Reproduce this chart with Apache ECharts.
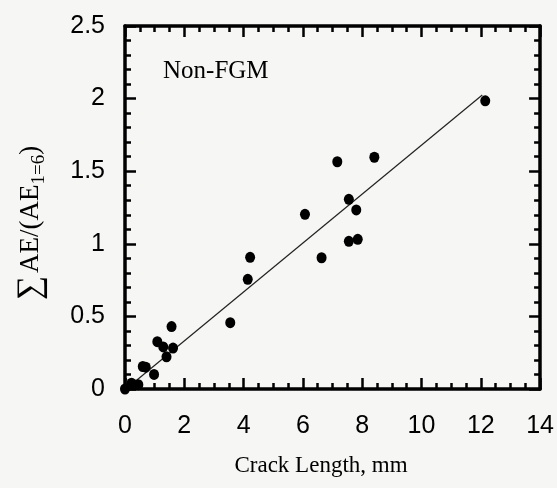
<!DOCTYPE html>
<html><head><meta charset="utf-8">
<script src="https://cdn.jsdelivr.net/npm/echarts@6/dist/echarts.min.js"></script>
<style>html,body{margin:0;padding:0;background:#f6f6f4;}#c{width:557px;height:488px;}</style>
</head><body><div id="c"></div>
<script>
// Measured points: crack length (mm) vs normalised cumulative AE
const crackLength = [0, 0.22, 0.45, 0.6, 0.7, 0.98, 1.09, 1.29, 1.4, 1.57, 1.62, 3.55, 4.14, 4.22, 6.07, 6.63, 7.16, 7.55, 7.55, 7.8, 7.85, 8.41, 12.15];
const aeRatio     = [0, 0.04, 0.03, 0.155, 0.15, 0.1, 0.326, 0.29, 0.222, 0.43, 0.282, 0.457, 0.755, 0.907, 1.203, 0.904, 1.565, 1.306, 1.017, 1.233, 1.031, 1.596, 1.985];
// Fitted line endpoints
const fitX = [0.3, 12.05];
const fitY = [0.045, 2.025];
const xTicks = [0, 2, 4, 6, 8, 10, 12, 14];
const yTicks = [0, 0.5, 1, 1.5, 2, 2.5];

const chart = echarts.init(document.getElementById('c'));
const ink = '#000';
const lblFont = 'Liberation Sans, Arial, sans-serif';
const serif = 'Liberation Serif, Times New Roman, serif';

function axisCommon(showLabel, isX) {
  return {
    min: isX ? xTicks[0] : yTicks[0],
    max: isX ? xTicks[xTicks.length - 1] : yTicks[yTicks.length - 1],
    interval: isX ? 2 : 0.5,
    axisLine: { show: true, onZero: false, lineStyle: { color: ink, width: 3.5 } },
    axisTick: { show: true, inside: true, length: 11, lineStyle: { color: ink, width: 2.5 } },
    minorTick: { show: true, splitNumber: isX ? 4 : 5, length: 6, lineStyle: { color: ink, width: 2.5 } },
    splitLine: { show: false },
    minorSplitLine: { show: false },
    axisLabel: {
      show: showLabel, color: ink, fontFamily: lblFont, fontSize: 25,
      margin: isX ? 25 : 20,
      formatter: v => String(v)
    }
  };
}

chart.setOption({
  backgroundColor: '#f6f6f4',
  animation: false,
  grid: { left: 125, right: 15, top: 26, bottom: 99 },
  xAxis: [
    Object.assign({ type: 'value', position: 'bottom' }, axisCommon(true, true)),
    Object.assign({ type: 'value', position: 'top' }, axisCommon(false, true))
  ],
  yAxis: [
    Object.assign({ type: 'value', position: 'left' }, axisCommon(true, false)),
    Object.assign({ type: 'value', position: 'right' }, axisCommon(false, false))
  ],
  series: [
    {
      type: 'line',
      xAxisIndex: 0, yAxisIndex: 0,
      data: fitX.map((x, i) => [x, fitY[i]]),
      symbol: 'none',
      lineStyle: { color: '#222', width: 1.2 },
      z: 2
    },
    {
      type: 'scatter',
      xAxisIndex: 0, yAxisIndex: 0,
      data: crackLength.map((x, i) => [x, aeRatio[i]]),
      symbol: 'circle',
      symbolSize: [10, 11],
      itemStyle: { color: '#000', opacity: 1 },
      z: 3
    }
  ],
  graphic: [
    {
      type: 'text', x: 163, y: 71,
      style: { text: 'Non-FGM', fill: ink, font: '25px ' + serif, textAlign: 'left', textVerticalAlign: 'middle' }
    },
    {
      type: 'text', x: 321, y: 466,
      style: { text: 'Crack Length, mm', fill: ink, font: '23px ' + serif, textAlign: 'center', textVerticalAlign: 'middle' }
    },
    {
      type: 'text', x: 31, y: 223, rotation: Math.PI / 2,
      style: {
        text: '{s|∑}{t|AE/(AE}{b|1=6}{t|)}',
        fill: ink,
        align: 'center', verticalAlign: 'middle',
        rich: {
          s: { fontFamily: serif, fontSize: 34, lineHeight: 36, fill: ink, padding: [0, 3, 0, 0] },
          t: { fontFamily: serif, fontSize: 27, lineHeight: 30, fill: ink },
          b: { fontFamily: serif, fontSize: 19, lineHeight: 20, fill: ink, verticalAlign: 'bottom' }
        }
      }
    }
  ]
});
</script>
</body></html>
